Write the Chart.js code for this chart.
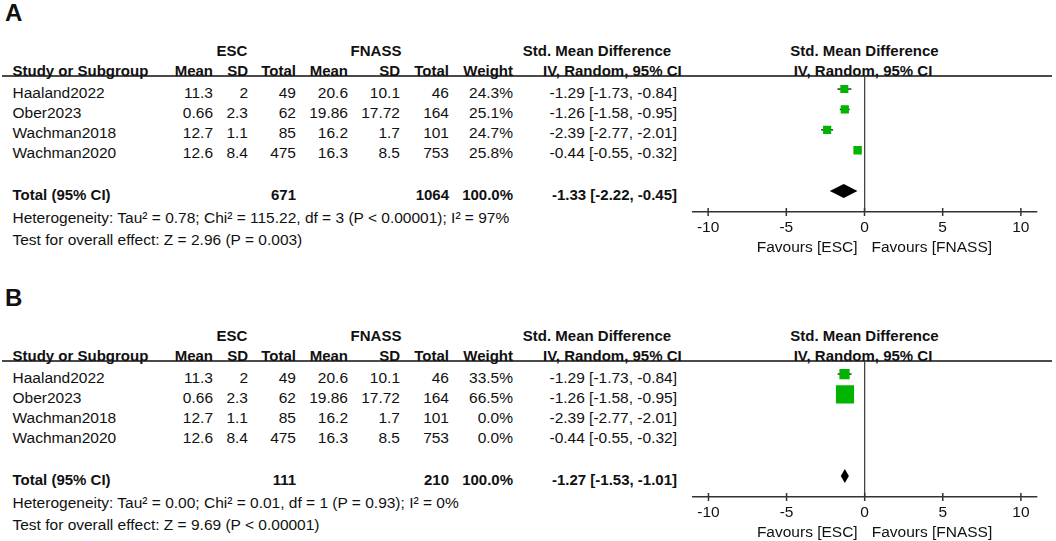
<!DOCTYPE html>
<html lang="en">
<head>
<meta charset="UTF-8">
<title>Forest plot ESC vs FNASS</title>
<script src="https://cdn.jsdelivr.net/npm/chart.js"></script>
<style>
body { margin: 0; background: #fff; }
#wrap { position: relative; width: 1056px; height: 541px; overflow: hidden;
        font-family: "Liberation Sans", Arial, sans-serif; color: #111; }
.t { position: absolute; font-size: 15.5px; line-height: 18px; white-space: nowrap; }
.b { font-weight: bold; font-size: 15px; }
.letter { position: absolute; left: 5px; font-size: 24px; line-height: 24px; font-weight: bold; }
.rule { position: absolute; left: 2px; width: 1050px; height: 2px; background: #4a4a4a; }
.plot { position: absolute; left: 680px; width: 370px; height: 202px; }
</style>
</head>
<body>
<div id="wrap"></div>
<script>
// study data
const studies = ["Haaland2022", "Ober2023", "Wachman2018", "Wachman2020"];
const escMean = [11.3, 0.66, 12.7, 12.6];
const escSD = [2, 2.3, 1.1, 8.4];
const escTotal = [49, 62, 85, 475];
const fnMean = [20.6, 19.86, 16.2, 16.3];
const fnSD = [10.1, 17.72, 1.7, 8.5];
const fnTotal = [46, 164, 101, 753];
const smd = [-1.29, -1.26, -2.39, -0.44];
const ciLow = [-1.73, -1.58, -2.77, -0.55];
const ciHigh = [-0.84, -0.95, -2.01, -0.32];

// panel A (all studies)
const weightA = [24.3, 25.1, 24.7, 25.8];
const totalsA = [671, 1064];
const pooledA = [-1.33, -2.22, -0.45];
const hetA = "Heterogeneity: Tau² = 0.78; Chi² = 115.22, df = 3 (P < 0.00001); I² = 97%";
const testA = "Test for overall effect: Z = 2.96 (P = 0.003)";

// panel B (sensitivity)
const weightB = [33.5, 66.5, 0, 0];
const totalsB = [111, 210];
const pooledB = [-1.27, -1.53, -1.01];
const hetB = "Heterogeneity: Tau² = 0.00; Chi² = 0.01, df = 1 (P = 0.93); I² = 0%";
const testB = "Test for overall effect: Z = 9.69 (P < 0.00001)";

const xTicks = [-10, -5, 0, 5, 10];
const favours = ["Favours [ESC]", "Favours [FNASS]"];

const FONT = "'Liberation Sans', Arial, sans-serif";
const wrap = document.getElementById("wrap");

function txt(x, yc, s, align, bold) {
  const d = document.createElement("div");
  d.className = "t" + (bold ? " b" : "");
  d.textContent = s;
  d.style.top = (yc - 9) + "px";
  if (align === "right") d.style.right = (1056 - x) + "px";
  else if (align === "center") { d.style.left = (x - 200) + "px"; d.style.width = "400px"; d.style.textAlign = "center"; }
  else d.style.left = x + "px";
  wrap.appendChild(d);
}

const fmtCI = (e, l, h) => e.toFixed(2) + " [" + l.toFixed(2) + ", " + h.toFixed(2) + "]";

const forestPlugin = {
  id: "forest",
  beforeDatasetsDraw(chart, args, o) {
    const { ctx, scales: { x, y } } = chart;
    ctx.save();
    ctx.strokeStyle = "#111";
    ctx.lineWidth = 1.3;
    o.lo.forEach((lo, i) => {
      if (!o.w[i]) return;
      const py = y.getPixelForValue(i);
      ctx.beginPath();
      ctx.moveTo(x.getPixelForValue(lo), py);
      ctx.lineTo(x.getPixelForValue(o.hi[i]), py);
      ctx.stroke();
    });
    // pooled diamond
    const py = y.getPixelForValue(5);
    ctx.fillStyle = "#000";
    ctx.beginPath();
    ctx.moveTo(x.getPixelForValue(o.pooled[1]), py);
    ctx.lineTo(x.getPixelForValue(o.pooled[0]), py - 7);
    ctx.lineTo(x.getPixelForValue(o.pooled[2]), py);
    ctx.lineTo(x.getPixelForValue(o.pooled[0]), py + 7);
    ctx.closePath();
    ctx.fill();
    ctx.restore();
  },
  afterDraw(chart, args, o) {
    const { ctx, scales: { x }, chartArea } = chart;
    const ay = chartArea.bottom;
    ctx.save();
    ctx.strokeStyle = "#333";
    ctx.lineWidth = 1.5;
    x.ticks.forEach(t => {
      const px = x.getPixelForValue(t.value);
      ctx.beginPath();
      ctx.moveTo(px, ay - 4);
      ctx.lineTo(px, ay + 4);
      ctx.stroke();
    });
    const zx = x.getPixelForValue(0);
    ctx.fillStyle = "#111";
    ctx.font = "15.5px " + FONT;
    ctx.textBaseline = "middle";
    ctx.textAlign = "right";
    ctx.fillText(favours[0], zx - 7, ay + 35.5);
    ctx.textAlign = "left";
    ctx.fillText(favours[1], zx + 7, ay + 35.5);
    ctx.restore();
  }
};

function makePanel(top, letter, weights, totals, pooled, het, test) {
  const L = document.createElement("div");
  L.className = "letter";
  L.textContent = letter;
  L.style.top = (top + 1) + "px";
  wrap.appendChild(L);

  const rule = document.createElement("div");
  rule.className = "rule";
  rule.style.top = (top + 75) + "px";
  wrap.appendChild(rule);

  const cols = [213, 248, 296, 348, 400, 449, 513];
  txt(232, top + 51, "ESC", "center", true);
  txt(376, top + 51, "FNASS", "center", true);
  txt(597, top + 51, "Std. Mean Difference", "center", true);
  txt(864.5, top + 51, "Std. Mean Difference", "center", true);
  txt(12.5, top + 71, "Study or Subgroup", "left", true);
  ["Mean", "SD", "Total", "Mean", "SD", "Total", "Weight"].forEach((h, i) => txt(cols[i], top + 71, h, "right", true));
  txt(543, top + 71, "IV, Random, 95% CI", "left", true);
  txt(863, top + 71, "IV, Random, 95% CI", "center", true);

  studies.forEach((s, i) => {
    const yc = top + 93 + i * 20;
    txt(12.5, yc, s, "left");
    const vals = [escMean[i], escSD[i], escTotal[i], fnMean[i], fnSD[i], fnTotal[i]];
    vals.forEach((v, j) => txt(cols[j], yc, String(v), "right"));
    txt(cols[6], yc, weights[i].toFixed(1) + "%", "right");
    txt(677, yc, fmtCI(smd[i], ciLow[i], ciHigh[i]), "right");
  });

  txt(12.5, top + 195, "Total (95% CI)", "left", true);
  txt(296, top + 195, String(totals[0]), "right", true);
  txt(449, top + 195, String(totals[1]), "right", true);
  txt(513, top + 195, "100.0%", "right", true);
  txt(677, top + 195, fmtCI(pooled[0], pooled[1], pooled[2]), "right", true);
  txt(12.5, top + 218, het, "left");
  txt(12.5, top + 240, test, "left");

  const box = document.createElement("div");
  box.className = "plot";
  box.style.top = (top + 60) + "px";
  const cv = document.createElement("canvas");
  box.appendChild(cv);
  wrap.appendChild(box);

  const pts = [], radii = [];
  studies.forEach((s, i) => {
    if (!weights[i]) return;
    pts.push({ x: smd[i], y: i });
    radii.push((0.24 * weights[i] + 2.2) / Math.SQRT2);
  });

  new Chart(cv, {
    type: "scatter",
    data: {
      datasets: [{
        data: pts,
        pointStyle: "rect",
        pointRadius: radii,
        pointBorderWidth: 0,
        backgroundColor: "#00b400",
        borderColor: "#00b400"
      }]
    },
    options: {
      responsive: true,
      maintainAspectRatio: false,
      animation: false,
      events: [],
      layout: { padding: { left: 12.5, right: 13.5, top: 16, bottom: 0 } },
      plugins: {
        legend: { display: false },
        tooltip: { enabled: false },
        forest: { lo: ciLow, hi: ciHigh, w: weights, pooled: pooled }
      },
      scales: {
        x: {
          type: "linear",
          min: -11,
          max: 11,
          afterBuildTicks: s => { s.ticks = xTicks.map(v => ({ value: v })); },
          afterFit: s => { s.height = 50; },
          ticks: { font: { family: FONT, size: 15.5 }, color: "#111", padding: 6, maxRotation: 0, autoSkip: false },
          grid: {
            drawTicks: false,
            lineWidth: 1.3,
            color: c => (c.tick && c.tick.value === 0) ? "#444" : "rgba(0,0,0,0)"
          },
          border: { color: "#333", width: 1.5 }
        },
        y: { type: "linear", display: false, min: -0.64, max: 6.03, reverse: true }
      }
    },
    plugins: [forestPlugin]
  });
}

makePanel(0, "A", weightA, totalsA, pooledA, hetA, testA);
makePanel(285, "B", weightB, totalsB, pooledB, hetB, testB);
</script>
</body>
</html>
